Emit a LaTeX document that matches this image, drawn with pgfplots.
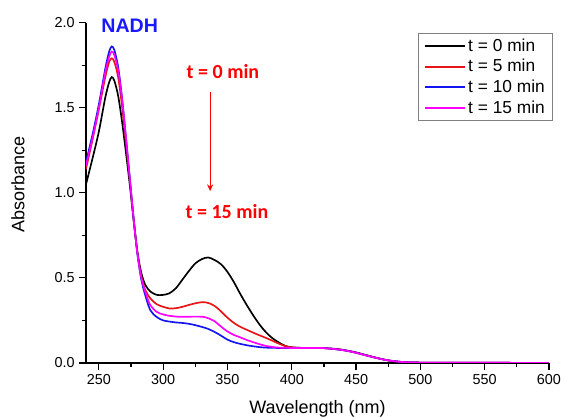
\documentclass[border=0pt]{standalone}
\usepackage{pgfplots}
\pgfplotsset{compat=1.18}
\usepackage{fontspec}
\setmainfont{Liberation Sans}
\newfontfamily\calib{Carlito}
\usetikzlibrary{arrows.meta}

\definecolor{cred}{RGB}{230,20,20}
\definecolor{cblue}{RGB}{20,20,240}
\definecolor{cmag}{RGB}{255,0,255}
\definecolor{labred}{RGB}{255,0,0}
\definecolor{nadh}{RGB}{25,25,255}

\begin{document}
\begin{tikzpicture}
\begin{axis}[
    name=ax,
    scale only axis,
    width=347.25pt,
    height=255.2pt,
    xmin=240, xmax=600,
    ymin=0, ymax=2.0,
    clip mode=individual,
    axis x line*=bottom,
    axis y line*=left,
    axis line style={line width=1pt},
    tick align=outside,
    major tick length=5pt,
    minor tick length=3pt,
    every tick/.style={line width=0.9pt, black},
    xtick={250,300,...,600},
    ytick={0,0.5,...,2.0},
    minor x tick num=1,
    minor y tick num=1,
    /pgf/number format/assume math mode=true,
    xticklabel style={font=\fontsize{10.8}{12}\selectfont, /pgf/number format/1000 sep={}},
    yticklabel style={font=\fontsize{10.8}{12}\selectfont, /pgf/number format/.cd, fixed, fixed zerofill, precision=1},
    xlabel={Wavelength (nm)},
    ylabel={Absorbance},
    xlabel style={font=\fontsize{13.5}{15}\selectfont, at={(axis description cs:0.5,-0.135)}, anchor=center},
    ylabel style={font=\fontsize{13.5}{15}\selectfont, at={(axis description cs:-0.147,0.524)}, anchor=center, rotate=0},
    legend cell align=left,
    legend style={at={(axis description cs:0.717,0.97)}, anchor=north west,
        draw=gray, line width=0.6pt, font=\fontsize{13}{15}\selectfont,
        row sep=0.6pt, inner xsep=4pt, inner ysep=2pt},
    legend image code/.code={\draw[#1, line width=1.4pt] (0cm,0cm) -- (30pt,0cm);},
    every axis plot/.append style={line width=1.25pt, smooth},
]

% t = 0 min
\addplot[black] coordinates {
(240,1.05) (245,1.20) (250,1.36) (255,1.56) (258,1.65) (260,1.68) (262,1.66)
(265,1.57) (268,1.42) (271,1.24) (274,1.05) (277,0.84) (280,0.65) (283,0.53)
(286,0.46) (290,0.42) (295,0.40) (300,0.40) (305,0.41) (310,0.44) (315,0.49)
(320,0.54) (325,0.585) (330,0.61) (335,0.62) (340,0.605) (345,0.58) (350,0.535)
(355,0.475) (360,0.405) (365,0.34) (370,0.28) (375,0.225) (380,0.18) (385,0.145)
(390,0.12) (395,0.10) (400,0.092) (410,0.088) (420,0.088) (425,0.087) (430,0.085)
(435,0.082) (440,0.077) (445,0.07) (450,0.062) (455,0.052) (460,0.042) (465,0.032)
(470,0.023) (475,0.015) (480,0.01) (485,0.006) (490,0.004) (500,0.002) (550,0.001)
(600,0.0)
};
\addlegendentry{t = 0 min}

% t = 5 min
\addplot[cred] coordinates {
(240,1.14) (245,1.31) (250,1.49) (255,1.68) (258,1.77) (260,1.79) (262,1.77)
(265,1.68) (268,1.51) (271,1.30) (274,1.08) (277,0.85) (280,0.65) (283,0.51)
(286,0.43) (290,0.38) (295,0.345) (300,0.33) (305,0.32) (310,0.322) (315,0.33)
(322,0.345) (328,0.355) (332,0.357) (336,0.35) (340,0.335) (344,0.31) (348,0.28)
(352,0.253) (356,0.23) (360,0.212) (365,0.195) (370,0.178) (375,0.162) (380,0.147)
(385,0.13) (390,0.113) (395,0.099) (400,0.091) (410,0.088) (420,0.088)
(425,0.087) (430,0.084) (435,0.08) (440,0.075) (445,0.068) (450,0.06) (455,0.05)
(460,0.04) (465,0.031) (470,0.022) (475,0.015) (480,0.01) (485,0.006) (490,0.004)
(500,0.002) (550,0.001) (600,0.0)
};
\addlegendentry{t = 5 min}

% t = 10 min
\addplot[cblue] coordinates {
(240,1.18) (245,1.34) (250,1.52) (255,1.73) (258,1.83) (260,1.86) (262,1.84)
(265,1.74) (268,1.56) (271,1.33) (274,1.09) (277,0.85) (280,0.64) (283,0.49)
(286,0.40) (290,0.31) (295,0.27) (300,0.25) (305,0.243) (310,0.238) (315,0.235)
(320,0.23) (325,0.222) (330,0.212) (335,0.20) (340,0.182) (344,0.165) (350,0.137)
(355,0.122) (360,0.112) (365,0.104) (370,0.098) (375,0.093) (380,0.09) (390,0.088)
(400,0.088) (410,0.088) (420,0.088) (425,0.087) (430,0.084) (435,0.08) (440,0.075)
(445,0.068) (450,0.06) (455,0.05) (460,0.04) (465,0.031) (470,0.022) (475,0.015)
(480,0.01) (485,0.006) (490,0.004) (500,0.002) (550,0.001) (600,0.0)
};
\addlegendentry{t = 10 min}

% t = 15 min
\addplot[cmag] coordinates {
(240,1.16) (245,1.32) (250,1.50) (255,1.71) (258,1.80) (260,1.83) (262,1.81)
(265,1.72) (268,1.55) (271,1.33) (274,1.09) (277,0.85) (280,0.64) (283,0.50)
(286,0.42) (290,0.34) (295,0.30) (300,0.285) (305,0.277) (311,0.272) (316,0.271)
(322,0.272) (328,0.272) (332,0.27) (336,0.26) (340,0.245) (344,0.22) (349,0.19)
(354,0.168) (360,0.15) (365,0.135) (370,0.122) (375,0.11) (380,0.10) (385,0.094)
(390,0.09) (400,0.088) (410,0.088) (420,0.088) (425,0.087) (430,0.084) (435,0.08)
(440,0.075) (445,0.068) (450,0.06) (455,0.05) (460,0.04) (465,0.031) (470,0.022)
(475,0.015) (480,0.01) (485,0.006) (490,0.004) (500,0.002) (550,0.001) (600,0.0)
};
\addlegendentry{t = 15 min}

% annotations
\node[font=\fontsize{14.7}{16}\selectfont\bfseries, text=nadh] at (axis cs:274,1.98) {NADH};
\node[font=\calib\fontsize{15}{17}\selectfont\bfseries, text=labred] at (axis cs:346.5,1.71) {t = 0 min};
\node[font=\calib\fontsize{15}{17}\selectfont\bfseries, text=labred] at (axis cs:349.6,0.89) {t = 15 min};
\draw[labred, line width=0.8pt, -{Stealth[length=5pt,width=4.5pt]}] (axis cs:336.5,1.59) -- (axis cs:336.5,1.01);
\end{axis}
\pgfresetboundingbox
\path ([xshift=-64.5pt,yshift=-41.25pt]ax.south west) rectangle ([xshift=13.5pt,yshift=17pt]ax.north east);
\end{tikzpicture}
\end{document}
